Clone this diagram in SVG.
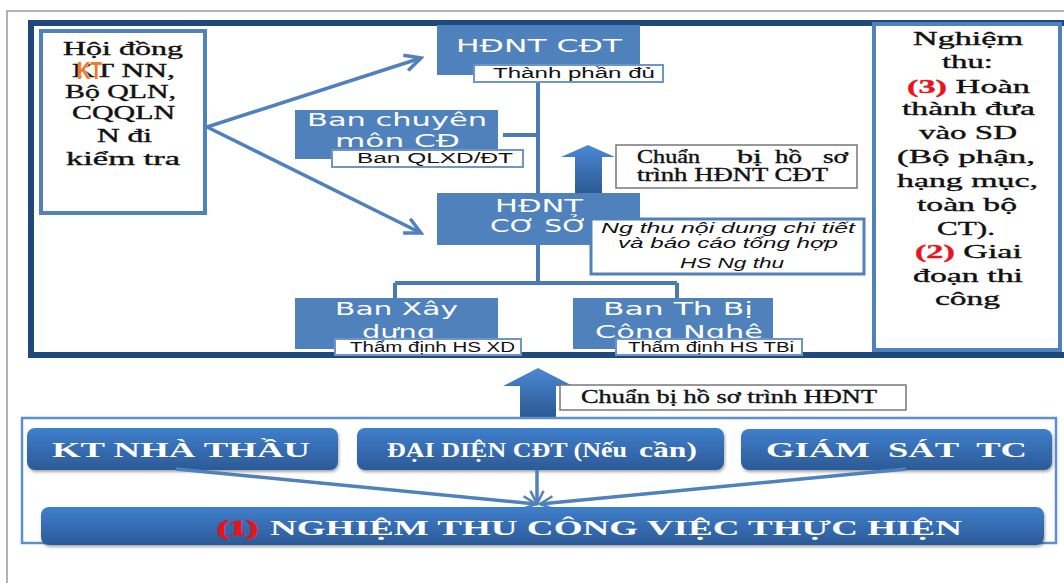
<svg xmlns="http://www.w3.org/2000/svg" width="1064" height="583" viewBox="0 0 1064 583">
  <style>
    .node { fill: #4F81BD; }
    .lbl { fill: #fff; stroke: #6f95c8; stroke-width: 2; }
    .wt { fill: #fff; font-family: "DejaVu Sans", "Liberation Sans", sans-serif; font-size: 17px; }
    .lt { fill: #111; font-family: "Liberation Sans", "DejaVu Sans", sans-serif; font-size: 14px; }
    .it { fill: #111; font-family: "Liberation Sans", "DejaVu Sans", sans-serif; font-size: 15px; font-style: italic; }
    .sf { font-family: "Liberation Serif", "DejaVu Serif", serif; fill: #111; font-size: 18px; stroke: #111; stroke-width: 0.35; }
    .sfw { font-family: "Liberation Serif", "DejaVu Serif", serif; font-weight: bold; fill: #fff; font-size: 21px; }
    .red { fill: #e8141c; stroke: #e8141c; font-weight: bold; }
    .conn { stroke: #4a7ab8; stroke-width: 4; fill: none; }
    .arr { stroke: #4F81BD; stroke-width: 3.5; fill: none; }
    .pill { fill: url(#pillGrad); filter: url(#shadow); }
    .note { fill: #fff; stroke: #777; stroke-width: 1.5; }
  </style>
  <defs>
    <linearGradient id="pillGrad" x1="0" y1="0" x2="0" y2="1">
      <stop offset="0" stop-color="#3f7fcc"/>
      <stop offset="1" stop-color="#2c5a97"/>
    </linearGradient>
    <linearGradient id="blockGrad" x1="0" y1="0" x2="0" y2="1">
      <stop offset="0" stop-color="#4a89d3"/>
      <stop offset="1" stop-color="#2b5892"/>
    </linearGradient>
    <filter id="shadow" x="-5%" y="-20%" width="110%" height="150%">
      <feDropShadow dx="1" dy="2" stdDeviation="1.5" flood-color="#000" flood-opacity="0.35"/>
    </filter>
    <marker id="vhead" viewBox="0 0 22 22" refX="19" refY="11" markerWidth="22" markerHeight="22" markerUnits="userSpaceOnUse" orient="auto">
      <path d="M3,3 L19,11 L3,19" fill="none" stroke="#4F81BD" stroke-width="3.5"/>
    </marker>
    <marker id="vheadS" viewBox="0 0 22 22" refX="19" refY="11" markerWidth="18" markerHeight="18" markerUnits="userSpaceOnUse" orient="auto">
      <path d="M3,3 L19,11 L3,19" fill="none" stroke="#4F81BD" stroke-width="3"/>
    </marker>
  </defs>

  <rect width="1064" height="583" fill="#fff"/>

  <!-- page frame -->
  <path d="M7,583 V11 H1064" fill="none" stroke="#9a9a9a" stroke-width="1.5"/>

  <!-- upper panel frame -->
  <rect x="31" y="23" width="1040" height="332" fill="none" stroke="#1F497D" stroke-width="6"/>

  <!-- connectors -->
  <g id="connectors">
    <path class="conn" d="M538,82 V193 M503,135 H538"/>
    <path class="conn" d="M538,245 V283 M395,283 H677 M395,283 V298 M677,283 V298"/>
    <path class="arr" d="M207,127 L421,58" marker-end="url(#vhead)"/>
    <path class="arr" d="M207,127 L421,233" marker-end="url(#vhead)"/>
    <!-- block arrows -->
    <polygon points="588,145 615,157 602,157 602,195 575,195 575,157 561,157" fill="url(#blockGrad)"/>
    <polygon points="538,368 573,386 556,386 556,418 520,418 520,386 503,386" fill="url(#blockGrad)"/>
  </g>

  <!-- inspection authorities -->
  <g id="hoi-dong">
    <rect x="41" y="31" width="164" height="182" fill="#fff" stroke="#4F81BD" stroke-width="4"/>
    <text class="sf" x="63" y="55" textLength="120" lengthAdjust="spacingAndGlyphs">Hội đồng</text>
    <text class="sf" x="72" y="77" textLength="103" lengthAdjust="spacingAndGlyphs">KT NN,</text>
    <text x="77" y="79" font-family="Liberation Sans, DejaVu Sans, sans-serif" font-weight="bold" font-size="24" fill="#F47920" stroke="#fff" stroke-width="1" paint-order="stroke" textLength="25" lengthAdjust="spacingAndGlyphs">KT</text>
    <text class="sf" x="65" y="98" textLength="111" lengthAdjust="spacingAndGlyphs">Bộ QLN,</text>
    <text class="sf" x="72" y="119" textLength="103" lengthAdjust="spacingAndGlyphs">CQQLN</text>
    <text class="sf" x="97" y="142" textLength="55" lengthAdjust="spacingAndGlyphs">N đi</text>
    <text class="sf" x="66" y="165" textLength="114" lengthAdjust="spacingAndGlyphs">kiểm tra</text>
  </g>

  <!-- acceptance notes -->
  <g id="nghiem-thu">
    <rect x="874" y="24" width="186" height="326" fill="#fff" stroke="#4F81BD" stroke-width="4"/>
    <text class="sf" x="913" y="45" textLength="110" lengthAdjust="spacingAndGlyphs">Nghiệm</text>
    <text class="sf" x="942" y="68" textLength="51" lengthAdjust="spacingAndGlyphs">thu:</text>
    <text class="sf" x="907" y="93" textLength="123" lengthAdjust="spacingAndGlyphs"><tspan class="red">(3)</tspan> Hoàn</text>
    <text class="sf" x="902" y="115" textLength="133" lengthAdjust="spacingAndGlyphs">thành đưa</text>
    <text class="sf" x="919" y="139" textLength="98" lengthAdjust="spacingAndGlyphs">vào SD</text>
    <text class="sf" x="897" y="163" textLength="138" lengthAdjust="spacingAndGlyphs">(Bộ phận,</text>
    <text class="sf" x="897" y="187" textLength="141" lengthAdjust="spacingAndGlyphs">hạng mục,</text>
    <text class="sf" x="917" y="211" textLength="100" lengthAdjust="spacingAndGlyphs">toàn bộ</text>
    <text class="sf" x="937" y="235" textLength="58" lengthAdjust="spacingAndGlyphs">CT).</text>
    <text class="sf" x="915" y="258" textLength="107" lengthAdjust="spacingAndGlyphs"><tspan class="red">(2)</tspan> Giai</text>
    <text class="sf" x="913" y="282" textLength="110" lengthAdjust="spacingAndGlyphs">đoạn thi</text>
    <text class="sf" x="935" y="305" textLength="65" lengthAdjust="spacingAndGlyphs">công</text>
  </g>

  <g id="hdnt-cdt">
    <rect class="node" x="437" y="25" width="203" height="50"/>
    <text class="wt" x="456" y="52" textLength="166" lengthAdjust="spacingAndGlyphs">HĐNT CĐT</text>
    <rect class="lbl" x="474" y="65" width="189" height="17"/>
    <text class="lt" x="493" y="78" textLength="162" lengthAdjust="spacingAndGlyphs">Thành phần đủ</text>
  </g>

  <g id="ban-chuyen-mon">
    <rect class="node" x="295" y="110" width="203" height="49"/>
    <text class="wt" x="307" y="126" font-size="18" textLength="180" lengthAdjust="spacingAndGlyphs">Ban chuyên</text>
    <text class="wt" x="335" y="147" font-size="18" textLength="125" lengthAdjust="spacingAndGlyphs">môn CĐ</text>
    <rect class="lbl" x="332" y="150" width="191" height="17"/>
    <text class="lt" x="357" y="163" textLength="156" lengthAdjust="spacingAndGlyphs">Ban QLXD/ĐT</text>
  </g>

  <g id="note-cdt">
    <rect class="note" x="616" y="145" width="241" height="43"/>
    <text class="sf" y="163" font-size="15">
      <tspan x="637" textLength="63" lengthAdjust="spacingAndGlyphs">Chuẩn</tspan>
      <tspan x="737" textLength="25" lengthAdjust="spacingAndGlyphs">bị</tspan>
      <tspan x="775" textLength="27" lengthAdjust="spacingAndGlyphs">hồ</tspan>
      <tspan x="823" textLength="25" lengthAdjust="spacingAndGlyphs">sơ</tspan>
    </text>
    <text class="sf" x="637" y="181" font-size="15" textLength="191" lengthAdjust="spacingAndGlyphs">trình HĐNT CĐT</text>
  </g>

  <g id="hdnt-co-so">
    <rect class="node" x="437" y="193" width="203" height="52"/>
    <text class="wt" x="495" y="212" textLength="88" lengthAdjust="spacingAndGlyphs">HĐNT</text>
    <text class="wt" x="490" y="232" textLength="98" lengthAdjust="spacingAndGlyphs">CƠ SỞ</text>
    <rect x="591" y="219" width="273" height="55" fill="#fff" stroke="#4F81BD" stroke-width="3"/>
    <text class="it" x="601" y="233" textLength="254" lengthAdjust="spacingAndGlyphs">Ng thu nội dung chi tiết</text>
    <text class="it" x="618" y="248" textLength="220" lengthAdjust="spacingAndGlyphs">và báo cáo tổng hợp</text>
    <text class="it" x="680" y="268" textLength="104" lengthAdjust="spacingAndGlyphs">HS Ng thu</text>
  </g>

  <g id="ban-xay-dung">
    <rect class="node" x="295" y="298" width="203" height="51"/>
    <text class="wt" x="335" y="315" font-size="18" textLength="123" lengthAdjust="spacingAndGlyphs">Ban Xây</text>
    <text class="wt" x="362" y="338" font-size="18" textLength="73" lengthAdjust="spacingAndGlyphs">dựng</text>
    <rect class="lbl" x="335" y="339" width="186" height="16"/>
    <text class="lt" x="350" y="352" font-size="13" textLength="165" lengthAdjust="spacingAndGlyphs">Thẩm định HS XD</text>
  </g>

  <g id="ban-thiet-bi">
    <rect class="node" x="573" y="298" width="200" height="51"/>
    <text class="wt" x="603" y="315" font-size="18" textLength="150" lengthAdjust="spacingAndGlyphs">Ban Th Bị</text>
    <text class="wt" x="595" y="338" font-size="18" textLength="168" lengthAdjust="spacingAndGlyphs">Công Nghệ</text>
    <rect class="lbl" x="616" y="339" width="186" height="16"/>
    <text class="lt" x="628" y="352" font-size="13" textLength="166" lengthAdjust="spacingAndGlyphs">Thẩm định HS TBi</text>
  </g>

  <g id="note-hdnt">
    <rect class="note" x="560" y="385" width="346" height="25"/>
    <text class="sf" x="581" y="403" font-size="15" textLength="296" lengthAdjust="spacingAndGlyphs">Chuẩn bị hồ sơ trình HĐNT</text>
  </g>

  <!-- lower panel -->
  <rect x="22" y="418" width="1034" height="125" fill="#fff" stroke="#5b8fd0" stroke-width="2.5"/>

  <g id="kt-nha-thau">
    <rect class="pill" x="27" y="428" width="311" height="42" rx="8"/>
    <text class="sfw" x="52" y="457" textLength="258" lengthAdjust="spacingAndGlyphs">KT NHÀ THẦU</text>
  </g>

  <g id="dai-dien-cdt">
    <rect class="pill" x="357" y="428" width="367" height="42" rx="8"/>
    <text class="sfw" x="387" y="457" font-size="15" font-weight="normal" textLength="240" lengthAdjust="spacingAndGlyphs">ĐẠI DIỆN CĐT (Nếu</text>
    <text class="sfw" x="639" y="457" font-weight="normal" textLength="58" lengthAdjust="spacingAndGlyphs">cần)</text>
  </g>

  <g id="giam-sat-tc">
    <rect class="pill" x="741" y="429" width="311" height="41" rx="8"/>
    <text class="sfw" x="766" y="457" xml:space="preserve" textLength="261" lengthAdjust="spacingAndGlyphs">GIÁM  SÁT  TC</text>
  </g>

  <g id="bottom-connectors">
    <path class="arr" d="M176,469 L536,504" stroke-width="3" marker-end="url(#vheadS)"/>
    <path class="arr" d="M537,470 V504" stroke-width="3" marker-end="url(#vheadS)"/>
    <path class="arr" d="M906,469 L540,504" stroke-width="3" marker-end="url(#vheadS)"/>
  </g>

  <g id="nghiem-thu-cong-viec">
    <rect class="pill" x="41" y="507" width="1003" height="38" rx="8"/>
    <text class="sfw" x="217" y="535" font-size="20" textLength="41" lengthAdjust="spacingAndGlyphs"><tspan class="red">(1)</tspan></text>
    <text class="sfw" x="270" y="535" font-size="20" textLength="692" lengthAdjust="spacingAndGlyphs">NGHIỆM THU CÔNG VIỆC THỰC HIỆN</text>
  </g>
</svg>
